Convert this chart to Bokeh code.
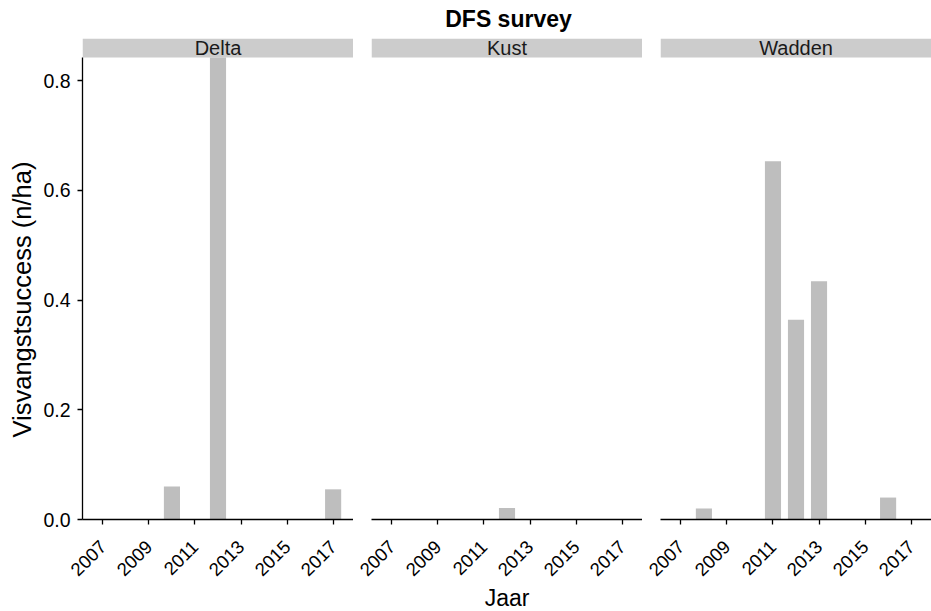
import math
from bokeh.plotting import figure
from bokeh.layouts import column, row
from bokeh.models import (Range1d, FixedTicker, NumeralTickFormatter, BoxAnnotation,
                          Label, Title, ColumnDataSource)
from bokeh.embed import file_html
from bokeh.resources import INLINE

# ---------------- data ----------------
title_text = "DFS survey"
x_label = "Jaar"
y_label = "Visvangstsuccess (n/ha)"
panels = ["Delta", "Kust", "Wadden"]
year_ticks = [2007, 2009, 2011, 2013, 2015, 2017]
year_first, year_last = 2007, 2017
y_ticks = [0.0, 0.2, 0.4, 0.6, 0.8]

delta_years = [2010, 2012, 2017]
delta_values = [0.060, 0.842, 0.055]
kust_years = [2012]
kust_values = [0.021]
wadden_years = [2008, 2011, 2012, 2013, 2016]
wadden_values = [0.020, 0.653, 0.364, 0.434, 0.040]

series = {
    "Delta": (delta_years, delta_values),
    "Kust": (kust_years, kust_values),
    "Wadden": (wadden_years, wadden_values),
}

# ---------------- styling ----------------
FONT = "Liberation Sans"
BAR = "#BEBEBE"
STRIP = "#CCCCCC"
BAR_W = 0.7
FRAME_W = 271
FRAME_H = 481
STRIP_PX = 19
GAP = 18
LEFT = 81
BOTTOM = 92
HEAD = 38

x_lo = year_first - BAR_W / 2
x_hi = year_last + BAR_W / 2
pad = 0.05 * (x_hi - x_lo)
x_range = (x_lo - pad, x_hi + pad)

y_top = max(max(v) for _, v in series.values())
y_strip = y_top * FRAME_H / (FRAME_H - STRIP_PX)


def make_panel(name, first, middle):
    yrs, vals = series[name]
    src = ColumnDataSource(dict(year=yrs, value=vals))
    p = figure(frame_width=FRAME_W, frame_height=FRAME_H,
               x_range=Range1d(*x_range), y_range=Range1d(0, y_strip),
               output_backend="svg", toolbar_location=None,
               y_axis_location="left" if first else None,
               min_border_left=LEFT if first else GAP, min_border_right=0,
               min_border_top=0, min_border_bottom=BOTTOM)
    p.outline_line_color = None
    p.xgrid.visible = False
    p.ygrid.visible = False
    p.background_fill_color = "white"
    p.border_fill_color = "white"

    p.vbar(x="year", top="value", width=BAR_W, source=src,
           fill_color=BAR, line_color=None)

    strip = BoxAnnotation(bottom=y_top, top=y_strip, fill_color=STRIP,
                          fill_alpha=1.0, line_color=None, level="underlay")
    p.add_layout(strip)
    p.add_layout(Label(x=(x_range[0] + x_range[1]) / 2, y=(y_top + y_strip) / 2,
                       text=name, text_align="center", text_baseline="middle",
                       text_font=FONT, text_font_size="20px", text_color="#1A1A1A"))

    xa = p.xaxis[0]
    xa.ticker = FixedTicker(ticks=year_ticks)
    xa.major_label_orientation = math.pi / 4
    xa.major_label_text_font = FONT
    xa.major_label_text_font_size = "18.5px"
    xa.major_label_text_color = "#000000"
    xa.major_label_standoff = 19
    xa.major_tick_in = 0
    xa.major_tick_out = 5
    xa.minor_tick_in = 0
    xa.minor_tick_out = 0
    xa.axis_line_width = 1.3
    xa.major_tick_line_width = 1.3
    xa.axis_line_color = "black"
    xa.major_tick_line_color = "black"
    if middle:
        xa.axis_label = x_label
        xa.axis_label_text_font = FONT
        xa.axis_label_text_font_size = "23px"
        xa.axis_label_text_font_style = "normal"
        xa.axis_label_text_color = "black"
        xa.axis_label_standoff = 0

    if first:
        ya = p.yaxis[0]
        ya.ticker = FixedTicker(ticks=y_ticks)
        ya.formatter = NumeralTickFormatter(format="0.0")
        ya.bounds = (0, y_top)
        ya.major_label_text_font = FONT
        ya.major_label_text_font_size = "19.5px"
        ya.major_label_text_color = "black"
        ya.major_label_standoff = 7
        ya.major_tick_in = 0
        ya.major_tick_out = 5
        ya.minor_tick_in = 0
        ya.minor_tick_out = 0
        ya.axis_line_width = 1.3
        ya.major_tick_line_width = 1.3
        ya.axis_line_color = "black"
        ya.major_tick_line_color = "black"
        # y-axis title, placed along the bar area below the strip
        p.add_layout(Title(text=y_label, align="left", offset=82, standoff=10,
                           text_font=FONT, text_font_size="25.5px",
                           text_font_style="normal", text_color="black"), "left")
    return p


plots = [make_panel(n, i == 0, i == 1) for i, n in enumerate(panels)]

total_w = (LEFT + FRAME_W) + 2 * (GAP + FRAME_W)
head = figure(width=total_w, height=HEAD, x_range=Range1d(0, total_w), y_range=Range1d(0, HEAD),
              output_backend="svg", toolbar_location=None,
              min_border=0, x_axis_location=None, y_axis_location=None)
head.outline_line_color = None
head.xgrid.visible = False
head.ygrid.visible = False
head.add_layout(Label(x=508, y=HEAD - 18, text=title_text,
                      text_align="center", text_baseline="middle",
                      text_font=FONT, text_font_size="23px", text_font_style="bold",
                      text_color="black"))

layout = column(head, row(*plots, spacing=0), spacing=0)

open("out.html", "w").write(file_html(layout, INLINE))
